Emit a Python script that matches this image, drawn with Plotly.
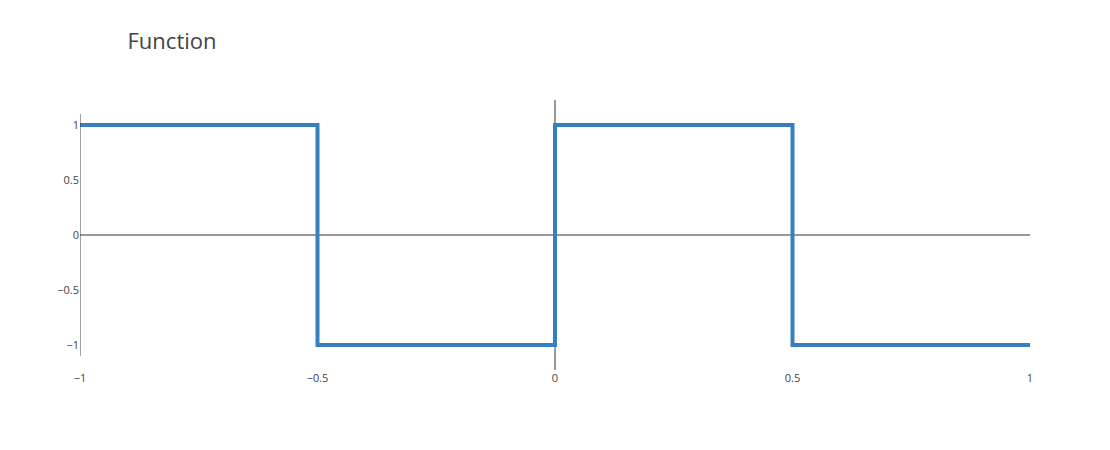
import plotly.graph_objects as go

x_vals = [-1, -0.5, 0, 0.5, 1]
y_vals = [1, -1, 1, -1, -1]
x_ticks = [-1, -0.5, 0, 0.5, 1]
y_ticks = [-1, -0.5, 0, 0.5, 1]

fig = go.Figure()
fig.add_trace(go.Scatter(
    x=x_vals, y=y_vals, mode="lines",
    line=dict(shape="hv", color="rgb(55,128,191)", width=4),
    showlegend=False,
))

fig.add_shape(type="line", xref="x", yref="y", x0=-1, x1=-1, y0=-1.1, y1=1.1,
              line=dict(color="#444", width=1), layer="above")

fig.update_layout(
    width=1102, height=442,
    template=None,
    paper_bgcolor="white", plot_bgcolor="white",
    margin=dict(l=72, r=80, t=92, b=80),
    font=dict(family="Open Sans, verdana, arial, sans-serif", color="#444", size=11),
    title=dict(text="Function", x=0.05, xref="paper", xanchor="left", y=0.925, yanchor="middle",
               font=dict(size=22, color="#444")),
    xaxis=dict(range=[-1, 1], tickvals=x_ticks, showgrid=False, zeroline=True,
               zerolinecolor="#999", zerolinewidth=2, showline=False, ticks=""),
    yaxis=dict(range=[-1.227, 1.227], tickvals=y_ticks, showgrid=False, zeroline=True,
               zerolinecolor="#999", zerolinewidth=2, showline=False, ticks=""),
)

fig.write_html("out.html")
